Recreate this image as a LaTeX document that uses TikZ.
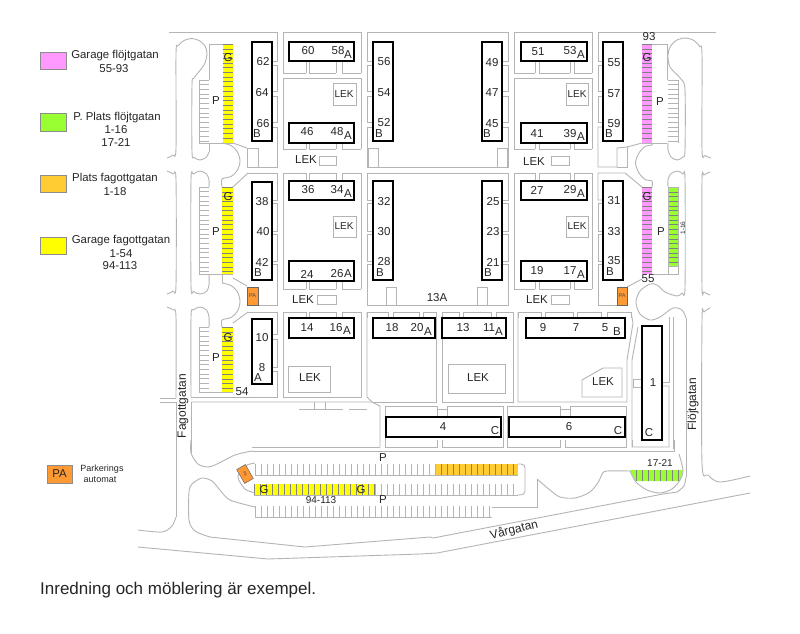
\documentclass[tikz,border=0pt]{standalone}
\usepackage{fontspec}
\setmainfont{Liberation Sans}
\definecolor{wall}{HTML}{B4B4B4}
\definecolor{pinkg}{HTML}{FF99FF}
\definecolor{greenp}{HTML}{99FF33}
\definecolor{orangep}{HTML}{FFCC33}
\definecolor{yellowg}{HTML}{FFFF00}
\definecolor{paor}{HTML}{FF9933}
\newcount\tcnt
\newcommand{\T}[3]{\global\advance\tcnt by 1 \node[lbl] (t\the\tcnt) at (#1,#2) {#3};}
\newcommand{\Bl}[4]{\draw[block] (#1,#2) rectangle (#3,#4);}
\newcommand{\W}[1]{\draw[w] #1;}
\newcommand{\Cv}[1]{\draw[w] plot[smooth,tension=.5] coordinates {#1};}
\newcommand{\HB}[6]{\fill[#1] (#2,#4) rectangle (#3,#5);
  \pgfmathsetmacro{\yb}{#4+#6}\foreach \yy in {#4,\yb,...,#5}{\draw[bar] (#2,\yy) -- (#3,\yy);}}
\newcommand{\GH}[5]{\pgfmathsetmacro{\yb}{#3+#5}\foreach \yy in {#3,\yb,...,#4}{\draw[hat] (#1,\yy) -- (#2,\yy);}
  \draw[hat] (#1,#3) -- (#1,#4);}
\newcommand{\VH}[4]{\pgfmathsetmacro{\xb}{#1+6}\foreach \xx in {#1,\xb,...,#2}{\draw[hat] (\xx,#3) -- (\xx,#4);}
  \draw[hat] (#1,#4) -- (#2,#4);}
\newcommand{\VB}[4]{\pgfmathsetmacro{\xb}{#1+6}\foreach \xx in {#1,\xb,...,#2}{\draw[bar] (\xx,#3) -- (\xx,#4);}}
\tikzset{
  lbl/.style={font=\fontsize{11.5}{11.5}\selectfont,inner sep=0pt,text=black!85},
  leg/.style={font=\fontsize{11.4}{11.4}\selectfont,inner sep=0pt,text=black!85},
  block/.style={draw=black,line width=2.8pt,fill=white},
  w/.style={draw=wall,line width=0.9pt},
  bar/.style={draw=black!50,line width=0.3pt},
  hat/.style={draw=wall,line width=0.8pt},
  legbox/.style={draw=black!45,line width=0.8pt}
}
\begin{document}
\begin{tikzpicture}[x=1pt,y=-1pt]
\useasboundingbox (0,0) rectangle (800,633);
\fill[white] (0,0) rectangle (800,633);
% ------ colour strips
\HB{yellowg}{222.5}{233}{44}{143}{4.7}
\HB{yellowg}{222}{233}{187}{274}{4.7}
\HB{yellowg}{222}{233}{327}{392}{4.7}
\HB{pinkg}{642}{652}{44}{143}{4.7}
\HB{pinkg}{642}{652}{187}{274}{4.7}
\HB{greenp}{668}{678}{187}{266}{4.7}
\draw[w] (668,187) rectangle (678,274);
\draw[w] (668,266) -- (678,266);
% grey hatches
\GH{199}{209}{80}{143}{4.7}
\GH{199}{209}{187}{274}{4.7}
\GH{199}{209}{327}{392}{4.7}
\foreach \yy in {80,84.7,...,143}{\draw[hat] (668,\yy) -- (678,\yy);}
\draw[hat] (678,80) -- (678,143);
% ------ left column outlines
\W{(169,32) -- (277,32) -- (277,61) -- (272,61)}
\W{(272,65) -- (277,65) -- (277,91) -- (272,91)}
\W{(272,96) -- (277,96) -- (277,122) -- (272,122)}
\W{(272,127) -- (277,127) -- (277,167) -- (247,167) -- (247,148) -- (258,148) -- (258,167)}
\W{(233,143) -- (247,148)}
\W{(209,143) -- (209,152)}
\W{(209,80) -- (199,80)}
\W{(209,80) -- (209,44) -- (223,44)}
\W{(199,143) -- (233,143)}
\Cv{(167,158) (173,155) (176,148) (176,54) (178,46) (184,40.5) (191.5,38.5) (199,40.5) (205,46) (207,54) (204,65) (194,78) (192,85) (192,152) (194.5,157.5) (200,160) (206,157.5) (209,152)}
\Cv{(222,143) (231,145.5) (237.5,152) (240,161) (237.5,170) (231,176.5) (222,179) (222,187)}
\W{(248,173) -- (277,173) -- (277,200) -- (272,200)}
\W{(248,173) -- (233,187)}
\W{(272,203) -- (277,203) -- (277,231) -- (272,231)}
\W{(272,234) -- (277,234) -- (277,261) -- (272,261)}
\W{(272,264) -- (277,264) -- (277,305) -- (258,305)}
\W{(233,278) -- (247,286)}
\W{(222,274) -- (222,283)}
\Cv{(167,171) (173,174) (176,180) (176,285) (173,291) (167,294)}
\Cv{(209,187) (209,180) (206.5,174) (200,171) (193.5,174) (191,180) (191,285) (193.5,291.5) (200,294) (206.5,291.5) (209,285) (209,274)}
\W{(199,274) -- (233,274)}
\W{(199,187) -- (209,187)}
\Cv{(222,283) (231,285.5) (237.5,292) (240,301.5) (237.5,311) (231,317.5) (222,320) (222,327)}
\W{(248,312) -- (277,312) -- (277,334) -- (272,334)}
\W{(248,312) -- (233,323)}
\W{(272,339) -- (277,339) -- (277,367) -- (272,367)}
\W{(272,371) -- (277,371) -- (277,397) -- (191,397)}
\Cv{(167,307) (173,310) (176,317) (176,398)}
\Cv{(191,397) (191,317) (193.5,310) (200,307) (206.5,310) (209,317) (209,327)}
\W{(199,327) -- (209,327)}
\W{(199,392) -- (233,392)}
\W{(160,398) -- (176,398)}
\W{(160,402) -- (176,402) -- (176,517)}
\W{(191,402) -- (372,402) -- (380,406) -- (380,447)}
\W{(191,402) -- (191,453)}
% ------ frames column 2
\foreach \a/\b in {283/306,309/336,342/361}{
  \W{(\a,73) -- (\b,73)} \W{(\a,149) -- (\b,149)} \W{(\a,173) -- (\b,173)} \W{(\a,289) -- (\b,289)} \W{(\a,312) -- (\b,312)}
  \W{(\a,61) -- (\a,73)} \W{(\b,61) -- (\b,73)} \W{(\a,143) -- (\a,149)} \W{(\b,143) -- (\b,149)}
  \W{(\a,173) -- (\a,181)} \W{(\b,173) -- (\b,181)} \W{(\a,281) -- (\a,289)} \W{(\b,281) -- (\b,289)}
  \W{(\a,312) -- (\a,318)} \W{(\b,312) -- (\b,318)}}
\W{(283,32) -- (361,32) -- (361,73)}
\W{(283,32) -- (283,73)}
\W{(283,149) -- (283,78) -- (361,78) -- (361,149)}
\W{(283,173) -- (283,289)} \W{(361,173) -- (361,289)}
\W{(283,312) -- (283,397) -- (361,397) -- (361,312)}
\draw[w] (333,83) rectangle (356,105);
\draw[w] (333,216) rectangle (356,237);
\draw[w] (319,156) rectangle (336,165);
\draw[w] (317,295) rectangle (336,304);
\draw[w] (288,366) rectangle (330,392);
% ------ frames column 3 (middle)
\W{(373,61) -- (367,61) -- (367,32) -- (508,32) -- (508,61) -- (502,61)}
\W{(373,65) -- (367,65) -- (367,91) -- (373,91)}
\W{(373,96) -- (367,96) -- (367,122) -- (373,122)}
\W{(373,127) -- (367,127) -- (367,167) -- (508,167) -- (508,127) -- (502,127)}
\W{(502,65) -- (508,65) -- (508,91) -- (502,91)}
\W{(502,96) -- (508,96) -- (508,122) -- (502,122)}
\draw[w] (368,148) rectangle (378,167);
\draw[w] (497,148) rectangle (507,167);
\W{(373,200) -- (367,200) -- (367,173) -- (508,173) -- (508,200) -- (502,200)}
\W{(373,203) -- (367,203) -- (367,231) -- (373,231)}
\W{(373,234) -- (367,234) -- (367,261) -- (373,261)}
\W{(373,264) -- (367,264) -- (367,305) -- (508,305) -- (508,264) -- (502,264)}
\W{(502,203) -- (508,203) -- (508,231) -- (502,231)}
\W{(502,234) -- (508,234) -- (508,261) -- (502,261)}
\W{(386,305) -- (386,287) -- (396,287) -- (396,305)}
\W{(477,305) -- (477,287) -- (487,287) -- (487,305)}
% ------ frames column 4
\foreach \a/\b in {514/535,539/570,574/592}{
  \W{(\a,73) -- (\b,73)} \W{(\a,149) -- (\b,149)} \W{(\a,173) -- (\b,173)} \W{(\a,289) -- (\b,289)}
  \W{(\a,61) -- (\a,73)} \W{(\b,61) -- (\b,73)} \W{(\a,143) -- (\a,149)} \W{(\b,143) -- (\b,149)}
  \W{(\a,173) -- (\a,181)} \W{(\b,173) -- (\b,181)} \W{(\a,281) -- (\a,289)} \W{(\b,281) -- (\b,289)}}
\W{(514,73) -- (514,32) -- (592,32) -- (592,73)}
\W{(514,149) -- (514,78) -- (592,78) -- (592,149)}
\W{(514,173) -- (514,289)} \W{(592,173) -- (592,289)}
\draw[w] (566,83) rectangle (588,105);
\draw[w] (566,216) rectangle (588,237);
\draw[w] (551,156) rectangle (569,165);
\draw[w] (551,295) rectangle (569,304);
% ------ right column
\W{(603,61) -- (598,61) -- (598,32) -- (716,32)}
\W{(603,65) -- (598,65) -- (598,91) -- (603,91)}
\W{(603,96) -- (598,96) -- (598,122) -- (603,122)}
\W{(603,127) -- (598,127) -- (598,167) -- (617,167) -- (617,148) -- (627,147) -- (642,143)}
\W{(627,147) -- (627,167) -- (617,167)}
\W{(652,44) -- (667,44) -- (667,80)}
\W{(667,143) -- (642,143)}
\Cv{(652,143) (652,145) (645,146.5) (639,153) (635.5,163) (639,173) (645,179.5) (652,181) (652,187)}
\Cv{(668,143) (668,150) (671,157) (677,160) (683,157) (685,150) (685,90) (681,79) (670,67) (668,55) (670.3,46.5) (676.5,40.3) (685,38) (693.5,40.3) (699.7,46.5) (702,55) (702,150) (705,155.5) (711,158)}
\W{(603,200) -- (598,200) -- (598,173) -- (625,173) -- (642,187)}
\W{(603,203) -- (598,203) -- (598,231) -- (603,231)}
\W{(603,234) -- (598,234) -- (598,261) -- (603,261)}
\W{(603,264) -- (598,264) -- (598,305) -- (617,305)}
\W{(627,287) -- (642,279)}
\W{(652,274) -- (668,274)}
\Cv{(668,187) (668,180) (670.5,174) (677,171) (683,174) (685,180) (685,287) (682,293) (677,296) (665,292) (657,285) (650,284) (640,291) (636,302) (640,314) (650,320) (660,317) (673,308) (682,310) (686,318)}
\Cv{(710,172) (704,175) (702,180) (702,287) (704,292) (710,295)}
\Cv{(710,308) (704,312) (702,320) (702,463) (708,475) (720,482) (750,476)}
\W{(686,318) -- (686,477)}
\W{(673,317) -- (673,449)}
\W{(669,317) -- (669,382) -- (662,382)}
\W{(662,386) -- (669,386) -- (669,447) -- (632,447) -- (632,360) -- (638,327)}
\draw[w] (633,379) rectangle (641,387);
% ------ row 3 frames
\foreach \a/\b in {367/388,393/419,423/436,442/459,463/491,496/513,518/541,545/573,577/601,607/631}{
  \W{(\a,312) -- (\b,312)} \W{(\a,312) -- (\a,318)} \W{(\b,312) -- (\b,318)}}
\W{(367,312) -- (367,397) -- (372,402)}
\W{(436,312) -- (436,402) -- (372,402)}
\W{(442,312) -- (442,402) -- (513,402) -- (513,312)}
\W{(518,312) -- (518,402) -- (627,402) -- (627,360) -- (633,323) -- (631,312)}
\draw[w] (448,364) rectangle (505,393);
\W{(582,380) -- (603,368) -- (622,368) -- (622,397) -- (582,397) -- cycle}
\W{(299,409) -- (343,409)} \W{(349,409) -- (367,409)}
\W{(314,402) -- (314,409)} \W{(325,402) -- (325,409)}
\W{(252,447) -- (380,447)}
% ------ row 4 frames
\W{(385,447) -- (385,406) -- (437,406) -- (437,409) -- (447,409) -- (447,406) -- (503,406) -- (503,447) -- (442,447) -- (442,440)}
\W{(385,447) -- (437,447) -- (437,440)}
\W{(437,409) -- (437,417)} \W{(447,409) -- (447,417)}
\W{(507,447) -- (507,406) -- (560,406) -- (560,409) -- (570,409) -- (570,406) -- (626,406) -- (626,447) -- (565,447) -- (565,440)}
\W{(507,447) -- (560,447) -- (560,440)}
\W{(560,409) -- (560,417)} \W{(570,409) -- (570,417)}
% ------ bottom parking and roads
\Cv{(191,440) (191,453) (198,464) (208,467) (217,464) (235,455) (252,451)}
\W{(252,451) -- (674,451) -- (674,440)}
\W{(632,447) -- (632,440)}
\fill[orangep] (435,464) rectangle (518,475);
\VB{435}{518}{464}{475}
\VH{255}{435}{464}{475}
\W{(435,475) -- (518,475)}
\fill[yellowg] (254,484) rectangle (375,495);
\VB{254}{375}{484}{495}
\VH{375}{518}{484}{495}
\VH{255}{492}{506}{517}
\W{(254,495) -- (375,495)}
\Cv{(255,463) (245,466) (238,477) (245,489) (255,493)}
\draw[w] (518,464) -- (521,464) .. controls (524,464) and (525,466) .. (525,468) -- (525,491) .. controls (525,493) and (524,495) .. (518,495);
\W{(492,507) -- (537,507) -- (537,479)}
\Cv{(537,479) (550,490) (560,497) (575,498) (590,492) (599,481) (602,474) (607,471) (630,471)}
\Cv{(176,517) (172,526) (162,532) (138,530)}
\Cv{(255,507) (230,500) (220,490) (212,481) (202,478) (192,484) (189,492) (189,520) (195,531) (210,537)}
\W{(210,537) -- (305,547) -- (430,537) -- (433,538) -- (663,494)}
\W{(138,547) -- (268,559) -- (420,554) -- (437,553) -- (750,493)}
\fill[greenp] (630,470) -- (683,470) -- (680,481) -- (635,481) -- cycle;
\foreach \xx in {636,642,...,680}{\draw[bar] (\xx,470) -- (\xx,481);}
\Cv{(630,471) (636,482) (647,490) (660,493) (672,489) (680,480) (683,470) (679,454)}
\W{(663,494) -- (677,492)}
\Cv{(677,492) (684,486) (686,477)}
% ------ PA icons
\draw[draw=black!60,line width=0.5pt,fill=paor] (247,287) rectangle (258,305);
\draw[draw=black!60,line width=0.5pt,fill=paor] (617,287) rectangle (627,305);
\draw[draw=black!60,line width=0.5pt,fill=paor,rotate around={30:(245,474)}] (240,466) rectangle (250,482);
\node[font=\fontsize{5.5}{5.5}\selectfont,inner sep=0pt,text=black!70] (pa1) at (252.5,296) {PA};
\node[font=\fontsize{5.5}{5.5}\selectfont,inner sep=0pt,text=black!70] (pa2) at (622,296) {PA};
\node[font=\fontsize{4}{4}\selectfont,inner sep=0pt,rotate=-60,text=black!70] (pa3) at (245,474) {PA};
% ------ black blocks
\Bl{252}{42}{272}{141}\Bl{289}{42}{354}{61}\Bl{289}{123}{354}{143}
\Bl{373}{42}{393}{141}\Bl{482}{42}{502}{141}
\Bl{521}{42}{587}{61}\Bl{521}{123}{587}{143}\Bl{603}{42}{623}{141}
\Bl{252}{182}{272}{280}\Bl{289}{181}{354}{200}\Bl{289}{261}{354}{281}
\Bl{373}{181}{393}{280}\Bl{482}{181}{502}{280}
\Bl{521}{181}{587}{200}\Bl{521}{261}{587}{281}\Bl{603}{181}{623}{280}
\Bl{252}{319}{272}{384}\Bl{289}{318}{354}{338}\Bl{373}{318}{435}{338}\Bl{442}{318}{506}{338}\Bl{526}{318}{625}{338}
\Bl{386}{417}{501}{437}\Bl{509}{417}{625}{437}\Bl{642}{326}{662}{440}
% ------ block labels
\T{263}{62}{62}\T{262}{93}{64}\T{263}{124}{66}\T{257}{134}{B}
\T{308}{51}{60}\T{338}{51}{58}\T{348}{55}{A}
\T{307}{132}{46}\T{337}{132}{48}\T{348}{136}{A}
\T{384}{62}{56}\T{384}{93}{54}\T{384}{123}{52}\T{379}{134}{B}
\T{492}{63}{49}\T{492}{93}{47}\T{492}{124}{45}\T{487}{134}{B}
\T{538}{52}{51}\T{570}{51}{53}\T{581}{55}{A}
\T{537}{134}{41}\T{570}{134}{39}\T{581}{137}{A}
\T{614}{63}{55}\T{614}{94}{57}\T{614}{124}{59}\T{609}{134}{B}
\T{262}{202}{38}\T{263}{232}{40}\T{262}{262}{42}\T{258}{273}{B}
\T{308}{190}{36}\T{337}{190}{34}\T{348}{194}{A}
\T{307}{274}{24}\T{337}{274}{26}\T{348}{274}{A}
\T{384}{202}{32}\T{384}{232}{30}\T{384}{262}{28}\T{380}{273}{B}
\T{493}{202}{25}\T{493}{232}{23}\T{493}{262}{21}\T{488}{273}{B}
\T{537}{190}{27}\T{570}{190}{29}\T{581}{194}{A}
\T{537}{271}{19}\T{570}{271}{17}\T{581}{275}{A}
\T{614}{201}{31}\T{614}{232}{33}\T{614}{261}{35}\T{610}{272}{B}
\T{262}{338}{10}\T{262}{368}{8}\T{258}{378}{A}
\T{307}{328}{14}\T{336}{328}{16}\T{347}{331}{A}
\T{392}{328}{18}\T{417}{328}{20}\T{428}{332}{A}
\T{463}{328}{13}\T{489}{328}{11}\T{499}{332}{A}
\T{543}{328}{9}\T{576}{328}{7}\T{605}{328}{5}\T{617}{332}{B}
\T{443}{427}{4}\T{495}{431}{C}\T{569}{427}{6}\T{618}{431}{C}\T{653}{383}{1}\T{649}{433}{C}
% ------ LEK
\node[lbl,font=\fontsize{10}{10}\selectfont] (l1) at (344,94) {LEK};
\node[lbl,font=\fontsize{10}{10}\selectfont] (l2) at (577,94) {LEK};
\node[lbl,font=\fontsize{10}{10}\selectfont] (l3) at (344,226) {LEK};
\node[lbl,font=\fontsize{10}{10}\selectfont] (l4) at (577,226) {LEK};
\T{306}{160}{LEK}\T{534}{162}{LEK}\T{303}{300}{LEK}\T{537}{300}{LEK}
\T{310}{378}{LEK}\T{478}{378}{LEK}\T{603}{382}{LEK}
\T{437}{298}{13A}
% ------ P / G
\T{216}{101}{P}\T{216}{232}{P}\T{216}{358}{P}\T{660}{102}{P}\T{661}{232}{P}\T{383}{458}{P}\T{383}{500}{P}
\T{228}{58}{G}\T{228}{197}{G}\T{228}{338}{G}\T{647}{58}{G}\T{647}{197}{G}\T{264}{490}{G}\T{361}{490}{G}
\T{649}{37}{93}\T{648}{279}{55}\T{242}{392}{54}
\node[lbl,font=\fontsize{10}{10}\selectfont] (n94) at (321,500) {94-113};
\node[lbl,font=\fontsize{10}{10}\selectfont] (n17) at (660,463) {17-21};
\node[lbl,font=\fontsize{6.5}{6.5}\selectfont,rotate=90] (n116) at (683,228) {1-16};
% ------ streets
\node[lbl,font=\fontsize{12}{12}\selectfont,rotate=90] (s1) at (183,406) {Fagottgatan};
\node[lbl,font=\fontsize{12}{12}\selectfont,rotate=90] (s2) at (693,404) {Flöjtgatan};
\node[lbl,font=\fontsize{12}{12}\selectfont,rotate=14] (s3) at (514,530) {Vårgatan};
% ------ legend
\draw[legbox,fill=pinkg] (40,52) rectangle (66,69);
\draw[legbox,fill=greenp] (40,113) rectangle (66,131);
\draw[legbox,fill=orangep] (40,175) rectangle (66,192);
\draw[legbox,fill=yellowg] (40,237) rectangle (66,254);
\node[leg] (g1) at (115,56) {Garage flöjtgatan};
\node[leg] (g2) at (114,69) {55-93};
\node[leg] (g3) at (117,118) {P. Plats flöjtgatan};
\node[leg] (g4) at (116,130) {1-16};
\node[leg] (g5) at (116,143) {17-21};
\node[leg] (g6) at (115,179) {Plats fagottgatan};
\node[leg] (g7) at (115,192) {1-18};
\node[leg] (g8) at (121,241) {Garage fagottgatan};
\node[leg] (g9) at (121,254) {1-54};
\node[leg] (g10) at (120,266) {94-113};
\draw[legbox,fill=paor] (47,465) rectangle (72,483);
\node[leg] (g11) at (59.5,473.5) {PA};
\node[leg,font=\fontsize{9}{9}\selectfont] (g12) at (102,469) {Parkerings};
\node[leg,font=\fontsize{9}{9}\selectfont] (g13) at (100,480) {automat};
\node[lbl,font=\fontsize{17}{17}\selectfont,anchor=west] (foot) at (40,590) {Inredning och möblering är exempel.};
\end{tikzpicture}
\end{document}
